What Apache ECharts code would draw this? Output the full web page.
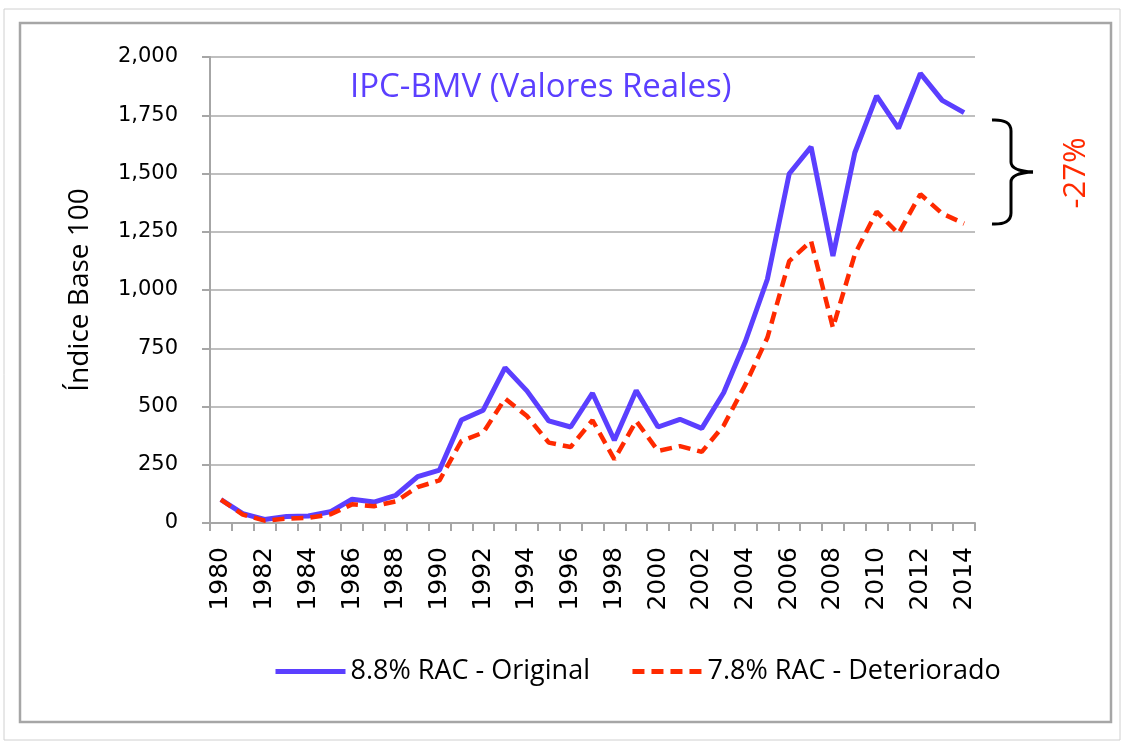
<!DOCTYPE html>
<html>
<head>
<meta charset="utf-8">
<script src="https://cdn.jsdelivr.net/npm/echarts@6/dist/echarts.min.js"></script>
<style>
  html, body { margin: 0; padding: 0; background: #fff; }
  #chart { width: 1124px; height: 745px; }
</style>
</head>
<body>
<div id="chart"></div>
<script>
// años 1980 - 2014
var years = [];
for (var y = 1980; y <= 2014; y++) years.push(String(y));

// IPC-BMV real, base 100
var original = [100, 40, 15, 28, 30, 48, 102, 90, 119, 199, 227, 442, 484, 667, 567, 438, 412,
  557, 355, 569, 412, 445, 406, 559, 781, 1046, 1499, 1614, 1146, 1589, 1833, 1694, 1930, 1814, 1761];
var deteriorado = [100, 36, 10, 19, 22, 37, 80, 72, 93, 154, 183, 352, 388, 534, 459, 345, 326,
  441, 273, 438, 309, 330, 305, 418, 595, 795, 1124, 1210, 838, 1153, 1336, 1242, 1411, 1328, 1285];

var yTicks = [0, 250, 500, 750, 1000, 1250, 1500, 1750, 2000];

var blue = "#5b3fff";
var red = "#ff2a00";
var gray = "#a6a6a6";

var myChart = echarts.init(document.getElementById("chart"));

// llave "}" entre las dos series en 2014
var brace = { fill: "none", stroke: "#000", lineWidth: 3 };
function curve(x1, y1, cx, cy, x2, y2) {
  return { type: "bezierCurve", shape: { x1: x1, y1: y1, cpx1: cx, cpy1: cy, x2: x2, y2: y2 }, style: brace, silent: true };
}
function seg(x1, y1, x2, y2) {
  return { type: "line", shape: { x1: x1, y1: y1, x2: x2, y2: y2 }, style: brace, silent: true };
}

var option = {
  backgroundColor: "#fff",
  animation: false,
  title: {
    text: "IPC-BMV (Valores Reales)",
    left: 345,
    top: 66,
    textStyle: {
      color: blue,
      fontFamily: "Open Sans",
      fontSize: 33,
      fontWeight: "normal",
    },
  },
  grid: {
    left: 210,
    right: 149,
    top: 57,
    bottom: 222,
  },
  legend: {
    left: 268,
    top: 653,
    itemWidth: 70,
    itemHeight: 14,
    itemGap: 40,
    itemStyle: { opacity: 0 },
    lineStyle: { width: 5 },
    textStyle: {
      fontFamily: "Open Sans",
      fontSize: 27,
      color: "#000",
    },
    data: ["8.8% RAC - Original", "7.8% RAC - Deteriorado"],
  },
  xAxis: {
    type: "category",
    data: years,
    boundaryGap: true,
    axisLine: { lineStyle: { color: gray, width: 2 } },
    axisTick: {
      show: true,
      interval: 0,
      length: 8,
      lineStyle: { color: gray, width: 2 },
    },
    axisLabel: {
      interval: 1,
      rotate: 90,
      margin: 24,
      color: "#000",
      fontFamily: "DejaVu Sans",
      fontSize: 25,
    },
    splitLine: { show: false },
  },
  yAxis: {
    type: "value",
    min: yTicks[0],
    max: yTicks[yTicks.length - 1],
    interval: 250,
    name: "Índice Base 100",
    nameLocation: "middle",
    nameGap: 116,
    nameRotate: 90,
    nameTextStyle: {
      fontFamily: "Open Sans",
      fontSize: 28,
      color: "#000",
    },
    axisLine: { show: true, lineStyle: { color: gray, width: 2 } },
    axisTick: { show: true, length: 8, lineStyle: { color: gray, width: 2 } },
    axisLabel: {
      margin: 32,
      color: "#000",
      fontFamily: "DejaVu Sans",
      fontSize: 21,
      formatter: function (v) {
        return v.toLocaleString("en-US");
      },
    },
    splitLine: { lineStyle: { color: "#bfbfbf", width: 2 } },
  },
  series: [
    {
      name: "8.8% RAC - Original",
      type: "line",
      data: original,
      symbol: "none",
      lineStyle: { color: blue, width: 5 },
      itemStyle: { color: blue },
      z: 3,
    },
    {
      name: "7.8% RAC - Deteriorado",
      type: "line",
      data: deteriorado,
      symbol: "none",
      lineStyle: { color: red, width: 4.5, type: [12, 7] },
      itemStyle: { color: red },
      z: 4,
    },
  ],
  graphic: [
    // marco exterior
    {
      type: "rect",
      shape: { x: 4, y: 9, width: 1116, height: 731 },
      style: { fill: "none", stroke: "#d0d0d0", lineWidth: 1 },
      silent: true,
    },
    {
      type: "rect",
      shape: { x: 20, y: 23, width: 1091, height: 699 },
      style: { fill: "none", stroke: gray, lineWidth: 2.5 },
      silent: true,
    },
    curve(992, 120, 1011, 119, 1011, 131),
    seg(1011, 131, 1011, 162),
    curve(1011, 162, 1011, 171, 1033, 172),
    curve(1033, 172, 1011, 173, 1011, 182),
    seg(1011, 182, 1011, 213),
    curve(1011, 213, 1011, 225, 992, 224),
    {
      type: "text",
      x: 1076,
      y: 173,
      rotation: Math.PI / 2,
      style: {
        text: "-27%",
        fill: red,
        font: "31px 'Open Sans'",
        textAlign: "center",
        textVerticalAlign: "middle",
      },
    },
  ],
};

myChart.setOption(option);
</script>
</body>
</html>
